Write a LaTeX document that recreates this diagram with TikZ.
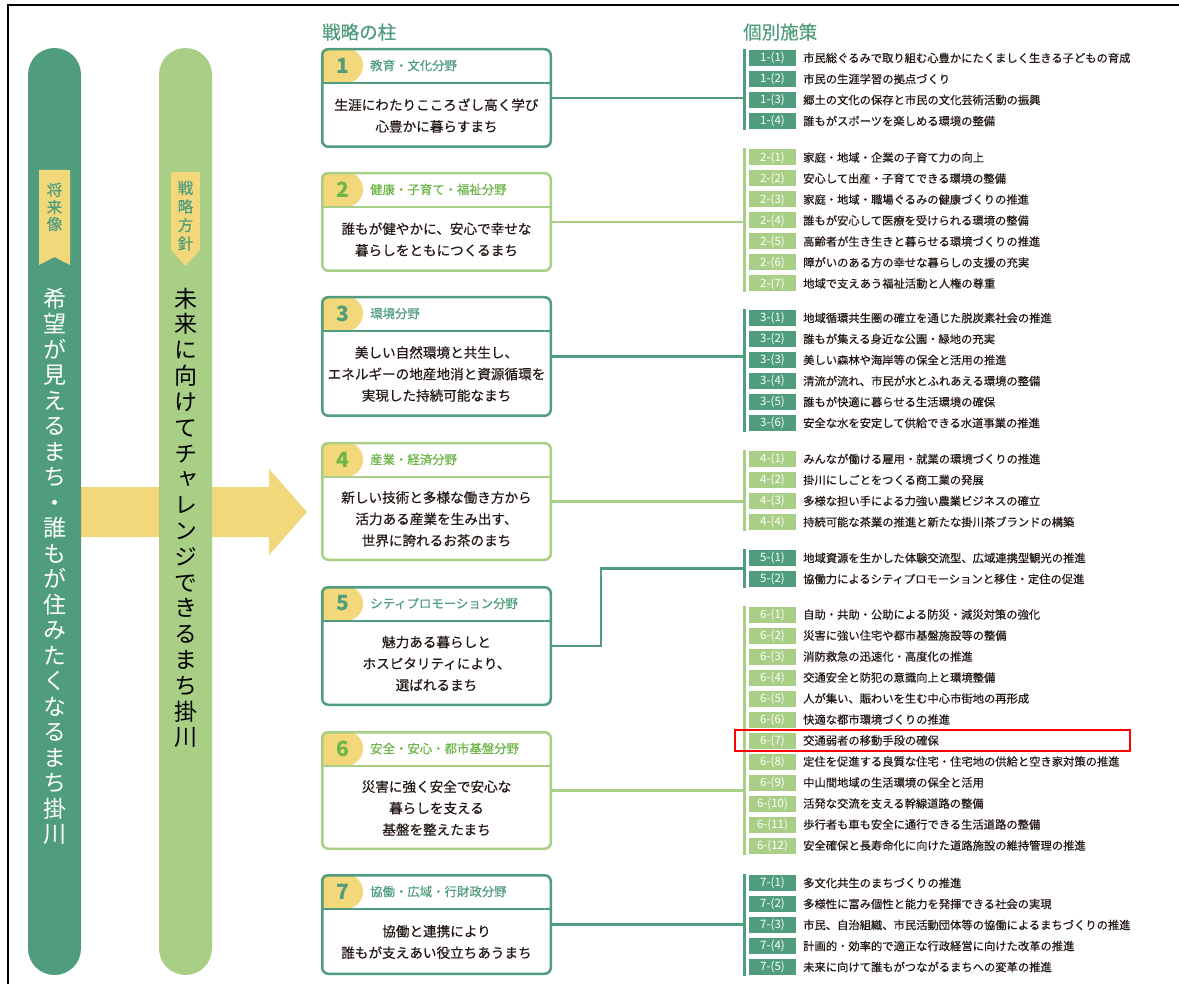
\documentclass[tikz,border=0pt]{standalone}
\usepackage{fontspec}
\setmainfont{Noto Sans CJK JP}
\newfontfamily\vfont[RawFeature=+vert]{Noto Sans CJK JP}
\newfontfamily\medfont[FakeBold=0.4]{Noto Sans CJK JP}
\newfontfamily\vmedfont[RawFeature=+vert,FakeBold=0.4]{Noto Sans CJK JP}
\definecolor{dg}{HTML}{4F9D7D}
\definecolor{lg}{HTML}{A9CF87}
\definecolor{ylw}{HTML}{F2D87A}
\definecolor{hg}{HTML}{6DB547}
\definecolor{txt}{HTML}{231815}
\tikzset{
  boxst/.style={line width=2.5pt, rounded corners=6pt, minimum width=228.5pt, inner sep=0pt, fill=none},
  conn/.style={line width=2.5pt},
  lab/.style={minimum width=47pt, minimum height=16pt, inner sep=0pt, text=white, font=\fontsize{11.5}{11.5}\selectfont},
  itm/.style={anchor=west, inner sep=0pt, text=txt, font=\medfont\fontsize{11.3}{11.3}\selectfont},
  vch/.style={inner sep=0pt, anchor=center, font=\vfont\fontsize{23}{23}\selectfont, text height=20.2pt, text depth=2.8pt},
  rch/.style={inner sep=0pt, anchor=center, text=dg, font=\vmedfont\fontsize{15.5}{15.5}\selectfont, text height=13.6pt, text depth=1.9pt},
  pillar/.style={rounded corners=26.5pt, minimum width=53pt, minimum height=927pt, inner sep=0pt},
  ttl/.style={anchor=west, inner sep=0pt, text=dg, font=\medfont\fontsize{18.5}{18.5}\selectfont}
}
\newcommand\pbox[8]{%
  \begin{scope}
    \clip[rounded corners=6pt] (321,#2) rectangle (552,{#2+#3});
    \fill[ylw] (321,#2) rectangle (345.5,{#2+35});
    \fill[ylw] (345.5,{#2+17.5}) circle[radius=17.5pt];
  \end{scope}
  \draw[#4, line width=1.5pt] (321,{#2+35}) -- (552,{#2+35});
  \node[boxst, draw=#4, minimum height={#3-2.5}] (#1) at (436.5,{#2+#3/2}) {};
  \node[inner sep=0pt, text=#5, font=\fontsize{21}{21}\selectfont\bfseries] (#1n) at (343,{#2+17.5}) {#6};
  \node[anchor=west, inner sep=0pt, text=#5, font=\medfont\fontsize{12.4}{12.4}\selectfont] (#1h) at (370,{#2+17.5}) {#7};
  \node[align=center, inner sep=0pt, text=txt, font=\medfont\fontsize{13.6}{21.5}\selectfont] (#1t) at (436.5,{#2+35+(#3-35)/2}) {#8};
}
\newcommand\pgroup[5]{%
  \draw[#3, line width=3pt] (744,{#2-9}) coordinate (bar#1t) -- (744,{#2+21*(#4-1)+9}) coordinate (bar#1b);
  \coordinate (bar#1) at (744,{#2+21*(#4-1)/2});
  \foreach \t [count=\i] in {#5} {
    \node[lab, fill=#3] (l#1x\i) at (772.5,{#2+21*(\i-1)}) {#1-(\i)};
    \node[itm] (t#1x\i) at (803,{#2+21*(\i-1)}) {\t};
  }
}
\begin{document}
\begin{tikzpicture}[x=1pt,y=-1pt]
\useasboundingbox (0,0) rectangle (1179,984);
\fill[white] (0,0) rectangle (1179,984);
\draw[line width=1.5pt] (8,984) -- (8,5) -- (1179,5);

% big arrow
\fill[ylw] (81,487) -- (269,487) -- (269,469) -- (307,512) -- (269,555) -- (269,537) -- (81,537) -- cycle;

% pillars
\node[pillar, fill=dg] (p1) at (54.5,511.5) {};
\node[pillar, fill=lg] (p2) at (185.5,511.5) {};
\fill[ylw] (39,170) -- (70,170) -- (70,265) -- (54.5,257) -- (39,265) -- cycle;
\fill[ylw] (171,172) -- (200,172) -- (200,250) -- (185.5,266) -- (171,250) -- cycle;
\foreach \ch [count=\i from 0] in {将,来,像}
  \node[rch] (r1x\i) at (54.5,{190+17*\i}) {\ch};
\foreach \ch [count=\i from 0] in {戦,略,方,針}
  \node[rch] (r2x\i) at (185.5,{188+18.5*\i}) {\ch};
\foreach \ch [count=\i from 0] in {希,望,が,見,え,る,ま,ち,・,誰,も,が,住,み,た,く,な,る,ま,ち,掛,川}
  \node[vch, text=white] (v1x\i) at (54.5,{298.5+25.5*\i}) {\ch};
\foreach \ch [count=\i from 0] in {未,来,に,向,け,て,チ,ャ,レ,ン,ジ,で,き,る,ま,ち,掛,川}
  \node[vch, text=black] (v2x\i) at (185.5,{298.5+25.8*\i}) {\ch};

% titles
\node[ttl] (h1) at (322,32) {戦略の柱};
\node[ttl] (h2) at (743,32) {個別施策};

% pillar boxes
\pbox{b1}{48}{100}{dg}{dg}{1}{教育・文化分野}{生涯にわたりこころざし高く学び\\心豊かに暮らすまち}
\pbox{b2}{172}{100}{lg}{hg}{2}{健康・子育て・福祉分野}{誰もが健やかに、安心で幸せな\\暮らしをともにつくるまち}
\pbox{b3}{296}{121}{dg}{dg}{3}{環境分野}{美しい自然環境と共生し、\\エネルギーの地産地消と資源循環を\\実現した持続可能なまち}
\pbox{b4}{442}{119}{lg}{hg}{4}{産業・経済分野}{新しい技術と多様な働き方から\\活力ある産業を生み出す、\\世界に誇れるお茶のまち}
\pbox{b5}{586}{120}{dg}{dg}{5}{シティプロモーション分野}{魅力ある暮らしと\\ホスピタリティにより、\\選ばれるまち}
\pbox{b6}{731}{119}{lg}{hg}{6}{安全・安心・都市基盤分野}{災害に強く安全で安心な\\暮らしを支える\\基盤を整えたまち}
\pbox{b7}{874}{101}{dg}{dg}{7}{協働・広域・行財政分野}{協働と連携により\\誰もが支えあい役立ちあうまち}

% groups
\pgroup{1}{58}{dg}{4}{{市民総ぐるみで取り組む心豊かにたくましく生きる子どもの育成},{市民の生涯学習の拠点づくり},{郷土の文化の保存と市民の文化芸術活動の振興},{誰もがスポーツを楽しめる環境の整備}}
\pgroup{2}{157.5}{lg}{7}{{家庭・地域・企業の子育て力の向上},{安心して出産・子育てできる環境の整備},{家庭・地域・職場ぐるみの健康づくりの推進},{誰もが安心して医療を受けられる環境の整備},{高齢者が生き生きと暮らせる環境づくりの推進},{障がいのある方の幸せな暮らしの支援の充実},{地域で支えあう福祉活動と人権の尊重}}
\pgroup{3}{318}{dg}{6}{{地域循環共生圏の確立を通じた脱炭素社会の推進},{誰もが集える身近な公園・緑地の充実},{美しい森林や海岸等の保全と活用の推進},{清流が流れ、市民が水とふれあえる環境の整備},{誰もが快適に暮らせる生活環境の確保},{安全な水を安定して供給できる水道事業の推進}}
\pgroup{4}{459}{lg}{4}{{みんなが働ける雇用・就業の環境づくりの推進},{掛川にしごとをつくる商工業の発展},{多様な担い手による力強い農業ビジネスの確立},{持続可能な茶業の推進と新たな掛川茶ブランドの構築}}
\pgroup{5}{558}{dg}{2}{{地域資源を生かした体験交流型、広域連携型観光の推進},{協働力によるシティプロモーションと移住・定住の促進}}
\pgroup{6}{614.5}{lg}{12}{{自助・共助・公助による防災・減災対策の強化},{災害に強い住宅や都市基盤施設等の整備},{消防救急の迅速化・高度化の推進},{交通安全と防犯の意識向上と環境整備},{人が集い、賑わいを生む中心市街地の再形成},{快適な都市環境づくりの推進},{交通弱者の移動手段の確保},{定住を促進する良質な住宅・住宅地の供給と空き家対策の推進},{中山間地域の生活環境の保全と活用},{活発な交流を支える幹線道路の整備},{歩行者も車も安全に通行できる生活道路の整備},{安全確保と長寿命化に向けた道路施設の維持管理の推進}}
\pgroup{7}{883}{dg}{5}{{多文化共生のまちづくりの推進},{多様性に富み個性と能力を発揮できる社会の実現},{市民、自治組織、市民活動団体等の協働によるまちづくりの推進},{計画的・効率的で適正な行政経営に向けた改革の推進},{未来に向けて誰もがつながるまちへの変革の推進}}

% connectors
\draw[conn, dg] (b1.east) -- (b1.east -| bar1);
\draw[conn, lg] (b2.east) -- (b2.east -| bar2);
\draw[conn, dg] (b3.east) -- (b3.east -| bar3);
\draw[conn, lg] (b4.east) -- (b4.east -| bar4);
\coordinate (c5) at (601,568.5);
\draw[conn, dg] (b5.east) -| (c5) -- (bar5);
\draw[conn, lg] (b6.east) -- (b6.east -| bar6);
\draw[conn, dg] (b7.east) -- (b7.east -| bar7);

% highlight
\node[draw=red, line width=2pt, minimum width=395pt, minimum height=21pt, inner sep=0pt] (hl) at (932.5,740.5) {};
\end{tikzpicture}
\end{document}
